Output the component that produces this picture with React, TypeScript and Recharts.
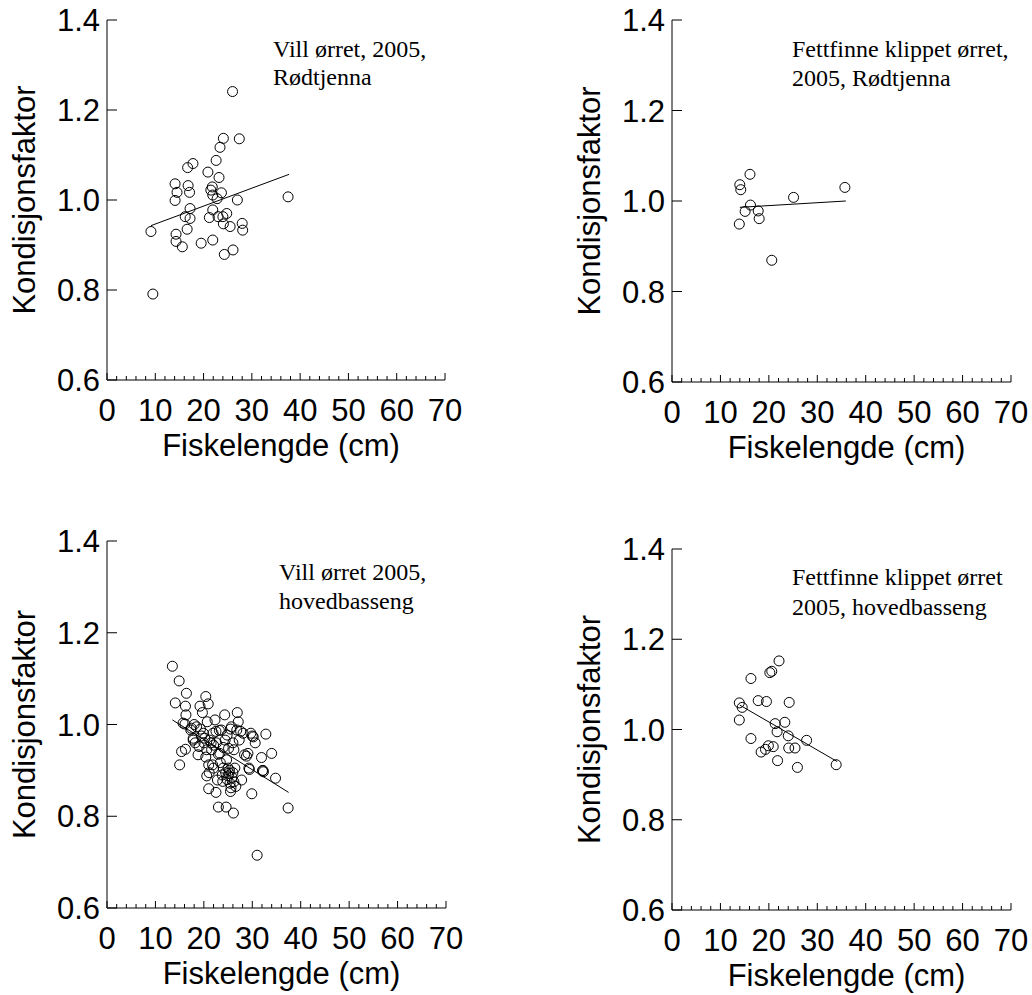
import React from 'react';
import { ScatterChart, Scatter, XAxis, YAxis, ReferenceLine } from 'recharts';

const xTicks = [0, 2, 4, 6, 8, 10, 12, 14, 16, 18, 20, 22, 24, 26, 28, 30, 32, 34, 36, 38, 40, 42, 44, 46, 48, 50, 52, 54, 56, 58, 60, 62, 64, 66, 68, 70];
const yTicks = [0.6, 0.8, 1.0, 1.2, 1.4];
const xDomain = [0, 70];
const yDomain = [0.6, 1.4];
const xTitle = 'Fiskelengde (cm)';
const yTitle = 'Kondisjonsfaktor';

const notesWildRodtjenna = ['Vill ørret, 2005,', 'Rødtjenna'];
const notesClippedRodtjenna = ['Fettfinne klippet ørret,', '2005, Rødtjenna'];
const notesWildMain = ['Vill ørret 2005,', 'hovedbasseng'];
const notesClippedMain = ['Fettfinne klippet ørret', '2005, hovedbasseng'];

const wildRodtjenna = [
  [9.1, 0.930], [9.5, 0.791], [14.1, 1.036], [14.5, 1.017], [14.1, 0.999], [14.3, 0.924], [14.3, 0.908],
  [15.6, 0.896], [16.2, 0.963], [16.6, 0.935], [16.7, 1.072], [16.8, 1.032], [17.1, 1.017], [17.2, 0.981],
  [17.2, 0.959], [17.8, 1.081], [19.5, 0.904], [20.9, 1.062], [21.2, 0.961], [21.5, 1.022], [21.8, 1.029],
  [21.9, 1.011], [21.9, 0.978], [21.9, 0.911], [22.6, 1.088], [22.8, 1.003], [23.0, 0.963], [23.2, 1.050],
  [23.4, 1.117], [23.7, 1.016], [24.0, 0.963], [24.1, 1.137], [24.1, 0.947], [24.3, 0.879], [24.8, 0.970],
  [25.5, 0.941], [26.0, 1.241], [26.1, 0.889], [27.0, 1.000], [27.4, 1.136], [28.0, 0.948], [28.1, 0.933],
  [37.5, 1.007],
];
const wildRodtjennaFit = [[9.1, 0.943], [37.7, 1.057]];

const clippedRodtjenna = [
  [14.0, 1.036], [14.2, 1.025], [16.1, 1.059], [16.2, 0.991], [15.1, 0.977], [13.9, 0.949],
  [17.8, 0.978], [18.0, 0.961], [20.6, 0.869], [25.1, 1.008], [35.7, 1.030],
];
const clippedRodtjennaFit = [[14.0, 0.986], [35.9, 1.0]];

const wildMain = [
  [13.5, 1.127], [14.9, 1.095], [14.1, 1.047], [16.4, 1.068], [16.2, 1.040], [16.3, 1.021], [15.7, 1.003],
  [16.1, 1.001], [15.0, 0.912], [15.4, 0.941], [16.2, 0.946], [17.4, 0.992], [17.8, 0.966], [18.5, 0.995],
  [18.8, 0.934], [19.0, 0.952], [19.2, 1.040], [19.7, 1.026], [19.9, 0.981], [20.0, 0.960], [20.4, 1.061],
  [20.9, 1.045], [20.7, 1.006], [20.4, 0.929], [20.6, 0.888], [21.0, 0.860], [21.1, 0.895], [21.2, 0.966],
  [21.6, 0.945], [21.8, 0.912], [21.9, 0.981], [22.3, 1.010], [22.5, 0.852], [22.8, 0.879], [23.0, 0.820],
  [23.2, 0.987], [23.3, 0.937], [23.4, 0.917], [23.9, 0.876], [24.3, 1.021], [24.4, 0.966], [24.6, 0.820],
  [24.7, 0.923], [24.8, 0.977], [25.0, 0.905], [25.1, 0.948], [25.2, 0.894], [25.4, 0.872], [25.5, 0.854],
  [25.7, 0.995], [26.1, 0.807], [26.2, 0.945], [26.4, 0.905], [26.6, 0.865], [26.9, 1.026], [27.1, 1.006],
  [27.3, 0.966], [27.8, 0.879], [28.1, 0.981], [28.8, 0.931], [29.4, 0.902], [29.7, 0.981], [29.9, 0.849],
  [30.2, 0.973], [30.6, 0.960], [31.0, 0.715], [31.9, 0.928], [32.3, 0.897], [32.8, 0.979], [34.0, 0.937],
  [34.8, 0.883], [37.4, 0.818], [29.1, 0.937], [26.8, 0.988], [17.3, 0.988], [17.8, 0.970], [18.2, 0.960],
  [19.5, 0.975], [20.2, 0.970], [21.5, 0.960], [22.0, 0.955], [22.5, 0.985], [23.6, 0.988], [24.0, 0.950],
  [25.5, 0.990], [26.0, 0.960], [28.4, 0.934], [29.3, 0.905], [32.1, 0.899], [32.2, 0.900], [24.0, 0.905],
  [24.5, 0.895], [25.0, 0.888], [25.3, 0.900], [25.8, 0.885], [26.2, 0.875], [26.0, 0.895], [24.8, 0.880],
  [25.6, 0.862], [23.8, 0.890], [22.0, 0.905], [21.0, 0.912], [23.0, 0.935], [22.6, 0.960], [20.6, 0.945],
  [19.3, 0.990], [18.0, 1.000], [27.6, 0.985], [30.0, 0.975],
];
const wildMainFit = [[13.5, 1.010], [37.5, 0.852]];

const clippedMain = [
  [13.9, 1.059], [14.5, 1.049], [13.9, 1.021], [16.3, 1.113], [16.3, 0.980], [17.8, 1.064], [19.5, 1.062],
  [18.4, 0.950], [19.3, 0.956], [19.9, 0.964], [20.9, 0.962], [20.2, 1.126], [20.6, 1.129], [22.1, 1.152],
  [21.3, 1.013], [21.7, 0.995], [21.8, 0.931], [23.3, 1.016], [24.0, 0.986], [24.2, 1.060], [24.1, 0.959],
  [25.4, 0.959], [25.9, 0.916], [27.8, 0.976], [33.9, 0.922],
];
const clippedMainFit = [[14.0, 1.054], [34.1, 0.929]];

const SANS = "'Liberation Sans', Arial, Helvetica, sans-serif";
const SERIF = "'Liberation Serif', 'Times New Roman', serif";
const CW = 516;
const CH = 497;
const AXW = 60;
const AXH = 60;

const toPts = (arr: number[][]) => arr.map(([x, y]) => ({ x, y }));

const XTick = (props: any) => {
  const { x, y, payload } = props;
  const v = payload.value;
  const major = v % 10 === 0;
  return (
    <g>
      <line x1={x} x2={x} y1={y} y2={y - (major ? 7 : 4)} stroke="#000" strokeWidth={1} />
      {major && (
        <text x={x} y={y + 41} textAnchor="middle" fontSize={31} fontFamily={SANS} fill="#000">
          {v}
        </text>
      )}
    </g>
  );
};

const YTick = (props: any) => {
  const { x, y, payload } = props;
  const v = payload.value;
  return (
    <g>
      <line x1={x} x2={x + 10} y1={y} y2={y} stroke="#000" strokeWidth={1} />
      <text x={x - 7} y={y + 11} textAnchor="end" fontSize={31} fontFamily={SANS} fill="#000">
        {Number(v).toFixed(1)}
      </text>
    </g>
  );
};

type Plot = { l: number; t: number; w: number; h: number };

function Panel({ data, fit, left, top, plot }: { data: number[][]; fit: number[][]; left: number; top: number; plot: Plot }) {
  const margin = {
    top: plot.t,
    left: plot.l - AXW,
    right: CW - plot.l - plot.w,
    bottom: CH - plot.t - plot.h - AXH,
  };
  const pts = toPts(data);
  const seg = toPts(fit);
  return (
    <div style={{ position: 'absolute', left, top, width: CW, height: CH }}>
      <ScatterChart width={CW} height={CH} margin={margin}>
        <XAxis
          type="number"
          dataKey="x"
          domain={xDomain}
          ticks={xTicks}
          interval={0}
          tickSize={0}
          tickMargin={0}
          tickLine={false}
          axisLine={{ stroke: '#000', strokeWidth: 1 }}
          tick={(p: any) => <XTick {...p} />}
          height={AXH}
          allowDataOverflow
          label={{
            content: () => (
              <text
                x={plot.l + plot.w / 2 + 5}
                y={plot.t + plot.h + 76}
                textAnchor="middle"
                fontSize={31}
                fontFamily={SANS}
                fill="#000"
              >
                {xTitle}
              </text>
            ),
          }}
        />
        <YAxis
          type="number"
          dataKey="y"
          domain={yDomain}
          ticks={yTicks}
          interval={0}
          tickSize={0}
          tickMargin={0}
          tickLine={false}
          axisLine={{ stroke: '#000', strokeWidth: 1 }}
          tick={(p: any) => <YTick {...p} />}
          width={AXW}
          allowDataOverflow
          label={{
            content: () => {
              const cx = plot.l - 83;
              const cy = plot.t + plot.h / 2;
              return (
                <text
                  x={cx}
                  y={cy}
                  transform={`rotate(-90 ${cx} ${cy})`}
                  textAnchor="middle"
                  dominantBaseline="central"
                  fontSize={31}
                  fontFamily={SANS}
                  fill="#000"
                >
                  {yTitle}
                </text>
              );
            },
          }}
        />
        <ReferenceLine
          segment={seg}
          stroke="#000"
          strokeWidth={1}
          ifOverflow="visible"
        />
        <Scatter
          data={pts}
          isAnimationActive={false}
          shape={(p: any) => <circle cx={p.cx} cy={p.cy} r={5} fill="none" stroke="#000" strokeWidth={1} />}
        />
      </ScatterChart>
    </div>
  );
}

const Note = ({ x, y, lines }: { x: number; y: number[]; lines: string[] }) => (
  <>
    {lines.map((t, i) => (
      <text key={i} x={x} y={y[i]} fontSize={24} fontFamily={SERIF} fill="#000">
        {t}
      </text>
    ))}
  </>
);

export default function App() {
  return (
    <div style={{ position: 'absolute', left: 0, top: 0, width: 1032, height: 995, background: '#fff', overflow: 'hidden' }}>
      <Panel data={wildRodtjenna} fit={wildRodtjennaFit} left={0} top={0} plot={{ l: 107, t: 20, w: 338, h: 360 }} />
      <Panel data={clippedRodtjenna} fit={clippedRodtjennaFit} left={516} top={0} plot={{ l: 156, t: 20, w: 339, h: 362 }} />
      <Panel data={wildMain} fit={wildMainFit} left={0} top={497} plot={{ l: 107, t: 44, w: 339, h: 367 }} />
      <Panel data={clippedMain} fit={clippedMainFit} left={516} top={497} plot={{ l: 156, t: 52, w: 339, h: 361 }} />
      <svg width={1032} height={995} style={{ position: 'absolute', left: 0, top: 0, pointerEvents: 'none' }}>
        <Note x={273} y={[57, 85]} lines={notesWildRodtjenna} />
        <Note x={792} y={[57, 86]} lines={notesClippedRodtjenna} />
        <Note x={279} y={[580, 609]} lines={notesWildMain} />
        <Note x={792} y={[585, 615]} lines={notesClippedMain} />
      </svg>
    </div>
  );
}
